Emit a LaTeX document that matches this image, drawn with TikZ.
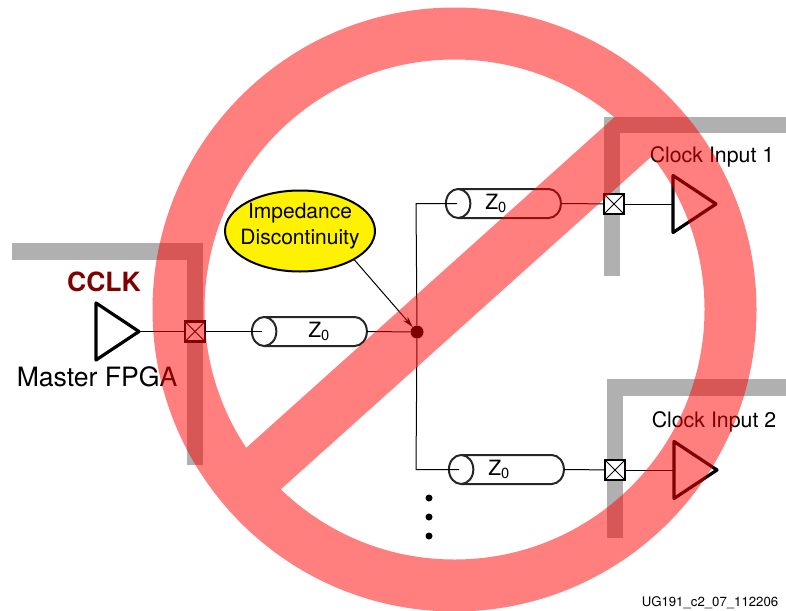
\documentclass[tikz,border=0pt]{standalone}
\usepackage{fontspec}
\setmainfont{TeX Gyre Heros}
\usetikzlibrary{arrows,arrows.meta,positioning,shapes.geometric}
\definecolor{darkcclk}{HTML}{800000}
\definecolor{wallgray}{HTML}{B0B0B0}
\newcommand{\zlabel}[2]{\hspace*{#1}Z\textsubscript{0}\hspace*{#2}}
\tikzset{
    %Define standard arrow tip
    >=stealth',
    wire/.style={
      draw=black, line width=1pt},
    wall/.style={
      draw=wallgray, line width=16.5pt},
    buffer/.style={
      isosceles triangle,
      isosceles triangle stretches,
      draw=black, line width=3.2pt, line join=round,
      minimum width=57pt,
      minimum height=43pt,
      inner sep=0pt,
      outer sep=0pt,
      anchor=lower side},
    padbox/.style={
      rectangle,
      draw=black, line width=2.5pt,
      fill=white,
      minimum size=20pt,
      inner sep=0pt,
      path picture={
        \draw [line width=0.8pt] (path picture bounding box.south west) -- (path picture bounding box.north east);
        \draw [line width=0.8pt] (path picture bounding box.north west) -- (path picture bounding box.south east);
      }},
    tline/.style={
      cylinder,
      shape border rotate=180,
      aspect=1.3,
      draw=black!85, line width=2pt,
      minimum width=29pt,
      minimum height=115pt,
      inner sep=0pt,
      font=\fontsize{21}{21}\selectfont},
    junction/.style={
      circle,
      fill=black,
      minimum size=13pt,
      inner sep=0pt},
    bullet/.style={
      circle,
      fill=black,
      minimum size=7pt,
      inner sep=0pt},
    callout/.style={
      ellipse,
      draw=black, line width=2pt,
      fill=yellow,
      minimum width=150pt,
      minimum height=81pt,
      inner sep=0pt},
    calloutlabel/.style={
      align=center,
      font=\fontsize{21}{26}\selectfont},
    inputlabel/.style={
      font=\fontsize{21.3}{21.3}\selectfont},
    banmark/.style={
      draw=red},
}

\begin{document}
\begin{tikzpicture}[x=1pt,y=-1pt]
    \useasboundingbox (0,0) rectangle (786,610);
    % walls of the devices
    \draw [wall] (12,251.5) -- (195,251.5) -- (195,465);
    \draw [wall] (786,125) -- (612,125) -- (612,276);
    \draw [wall] (786,387.5) -- (615,387.5) -- (615,538);

    \node (cclk) at (104,282) [font=\fontsize{26.5}{26.5}\selectfont\bfseries, text=darkcclk]
          {CCLK};
    \node (master) at (97,377) [font=\fontsize{26.6}{26.6}\selectfont]
          {Master FPGA};
    \node (drv) [buffer] at (96,331.5) {};
    \node (pad0) [padbox] at (195,331.5) {};
    \node (line0) [tline] at (316,331.5)
          {\zlabel{6pt}{0pt}};
    \coordinate (line0in) at (262,331.5);
    \node (split) [junction] at (417,332) {};
    \node (disc) [callout] at (300,231) {};
    \node (disctext) [calloutlabel] at (300,226)
          {Impedance\\Discontinuity};

    \node (line1) [tline] at (510,203.5)
          {\zlabel{0pt}{28pt}};
    \coordinate (line1in) at (457,203.5);
    \node (pad1) [padbox] at (614,204) {};
    \node (rcv1) [buffer] at (673,204) {};
    \node (clk1) [inputlabel] at (712,157)
          {Clock Input 1};

    \node (line2) [tline] at (513,469.5)
          {\zlabel{0pt}{28pt}};
    \coordinate (line2in) at (459,469.5);
    \node (pad2) [padbox] at (615,470) {};
    \node (rcv2) [buffer] at (674,470) {};
    \node (clk2) [inputlabel] at (714,422)
          {Clock Input 2};

    \node (dot1) [bullet] at (429,498) {};
    \node (dot2) [bullet] at (429,517) {};
    \node (dot3) [bullet] at (429,536) {};

    \node (figid) at (710,603) [font=\fontsize{13.2}{13.2}\selectfont]
          {UG191\_c2\_07\_112206};

    \draw [wire] (drv.apex) -- (pad0);
    \draw [wire] (pad0) -- (line0in);
    \draw [wire] (367,331.5) -- (split);
    \draw [wire] (split) -- (416,203.5) -- (line1in);
    \draw [wire] (split) -- (416,469.5) -- (line2in);
    \draw [wire] (562,203.5) -- (pad1);
    \draw [wire] (pad1) -- (rcv1.lower side);
    \draw [wire] (564,469.5) -- (pad2);
    \draw [wire] (pad2) -- (rcv2.lower side);
    \draw [wire, -{Stealth[length=11pt,width=6pt]}] (disc.-28) -- (split);

    % prohibition sign over everything
    \begin{scope}[transparency group, opacity=0.5]
      \coordinate (ringc) at (454.5,309.5);
      \draw [banmark, line width=52pt] (ringc) circle (276pt);
      \draw [banmark, line width=54pt] (253,478) -- (645,126);
    \end{scope}
\end{tikzpicture}
\end{document}
